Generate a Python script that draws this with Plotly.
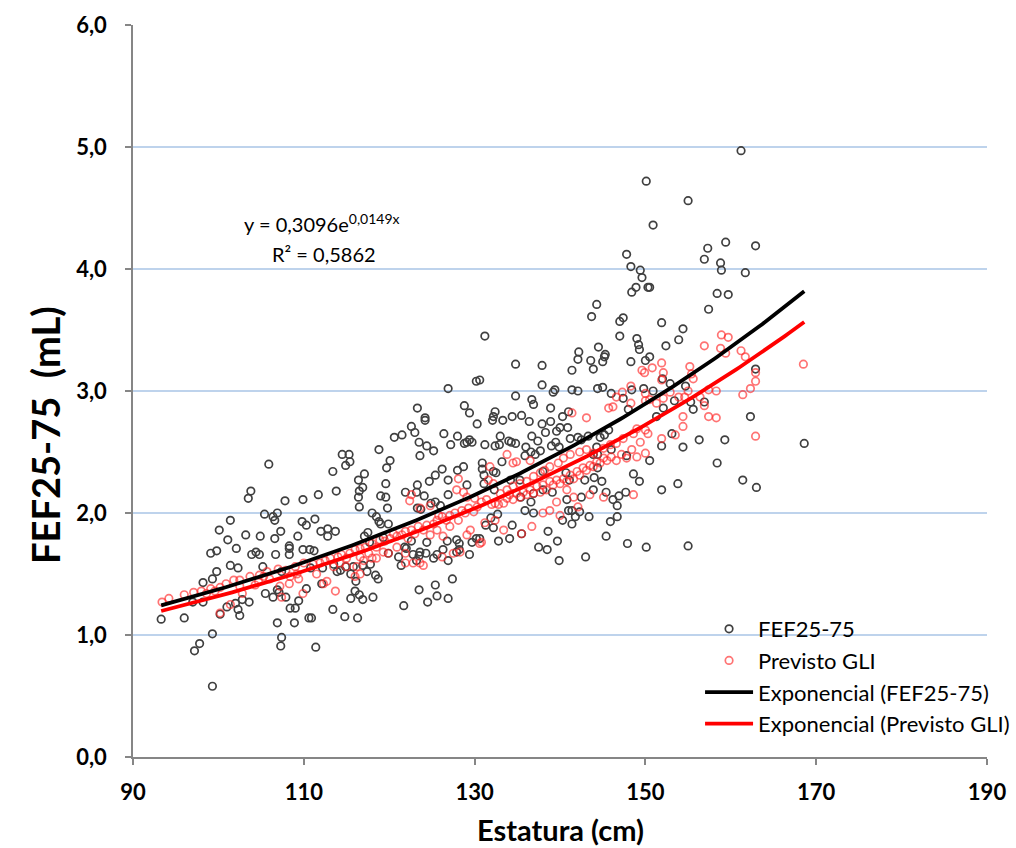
import numpy as np
import plotly.graph_objects as go

# ---------------- data ----------------
# FEF25-75 measured: (height cm, value)
fef_points = [
    # ~93-111 cm
    (105.9, 2.40), (103.8, 2.18), (103.5, 2.12), (107.8, 2.10), (109.9, 2.11), (101.4, 1.94), (100.1, 1.86),
    (101.1, 1.78), (103.2, 1.82), (105.4, 1.99), (106.4, 1.97), (106.9, 2.00), (106.6, 1.94), (107.3, 1.85),
    (106.6, 1.79), (104.9, 1.81), (109.8, 1.93), (110.3, 1.90), (109.3, 1.81), (102.1, 1.71), (99.1, 1.67),
    (99.8, 1.69), (103.9, 1.66), (104.4, 1.68), (104.8, 1.66), (106.7, 1.66), (108.3, 1.73), (108.3, 1.71),
    (108.3, 1.66), (109.9, 1.70), (101.4, 1.57), (102.3, 1.55), (105.2, 1.56), (99.3, 1.46), (99.8, 1.52),
    (98.2, 1.43), (107.4, 1.52), (110.3, 1.38), (105.5, 1.34), (106.4, 1.31), (106.9, 1.37), (107.1, 1.35),
    (107.9, 1.31), (109.4, 1.28), (98.2, 1.27), (97.0, 1.27), (102.0, 1.26), (102.8, 1.29), (103.6, 1.27),
    (102.3, 1.21), (102.5, 1.16), (101.0, 1.23), (100.2, 1.17), (108.4, 1.22), (109.0, 1.22), (110.6, 1.14),
    (93.3, 1.13), (96.0, 1.14), (106.9, 1.10), (108.9, 1.10), (99.3, 1.01), (107.4, 0.98), (107.3, 0.91),
    (97.8, 0.93), (97.2, 0.87), (99.3, 0.58),
    # ~110-131 cm
    (122.6, 2.71), (124.2, 2.76), (123.0, 2.66), (121.5, 2.64), (120.6, 2.62), (126.4, 2.65), (128.0, 2.63),
    (129.4, 2.60), (128.8, 2.57), (129.1, 2.58), (129.7, 2.58), (130.3, 2.73), (123.5, 2.58), (124.4, 2.55),
    (125.2, 2.51), (127.2, 2.56), (123.6, 2.47), (114.5, 2.48), (115.3, 2.48), (114.9, 2.39), (115.4, 2.42),
    (118.8, 2.52), (120.1, 2.43), (119.7, 2.37), (113.4, 2.34), (117.1, 2.32), (116.4, 2.27), (116.9, 2.21),
    (116.5, 2.18), (116.4, 2.13), (116.5, 2.05), (113.8, 2.18), (111.7, 2.15), (119.6, 2.24), (119.0, 2.14),
    (119.6, 2.13), (119.8, 2.04), (118.0, 2.00), (118.5, 1.97), (118.8, 1.93), (119.0, 1.91), (119.9, 1.91),
    (123.3, 2.23), (124.7, 2.26), (125.4, 2.31), (126.2, 2.36), (128.0, 2.35), (128.7, 2.38), (126.9, 2.27),
    (129.1, 2.23), (126.9, 2.15), (121.9, 2.17), (123.2, 2.17), (124.1, 2.14), (125.4, 2.09), (124.9, 2.08),
    (126.0, 2.06), (123.3, 2.04), (123.7, 2.03), (111.3, 1.95), (112.0, 1.85), (112.8, 1.81), (112.8, 1.87),
    (113.7, 1.85), (110.7, 1.70), (111.2, 1.69), (117.5, 1.84), (117.1, 1.81), (117.7, 1.76), (119.3, 1.80),
    (119.9, 1.67), (121.1, 1.64), (121.8, 1.72), (122.8, 1.66), (123.5, 1.65), (123.2, 1.61), (124.3, 1.67),
    (125.2, 1.63), (125.6, 1.66), (126.9, 1.61), (127.9, 1.68), (128.2, 1.75), (129.4, 1.66), (129.7, 1.76),
    (130.2, 1.79), (110.8, 1.55), (112.2, 1.55), (113.5, 1.58), (113.9, 1.52), (114.3, 1.53), (114.9, 1.56),
    (115.5, 1.50), (115.8, 1.56), (116.1, 1.44), (116.9, 1.57), (117.8, 1.58), (117.4, 1.52), (118.4, 1.49),
    (118.7, 1.46), (112.1, 1.42), (118.1, 1.31), (116.0, 1.36), (115.5, 1.30), (116.5, 1.33), (116.9, 1.29),
    (123.5, 1.37), (125.4, 1.41), (124.5, 1.27), (125.6, 1.32), (126.9, 1.30), (127.4, 1.46), (121.7, 1.24),
    (113.4, 1.21), (114.8, 1.15), (116.3, 1.14), (110.9, 1.14), (111.4, 0.90), (121.4, 1.57), (122.0, 1.71),
    (122.6, 1.77), (123.6, 1.68), (124.4, 1.76), (128.2, 1.70), (127.9, 1.78), (126.8, 1.77), (126.3, 1.70),
    (126.9, 3.02), (130.2, 3.08), (123.3, 2.86), (124.2, 2.78), (128.8, 2.88), (129.4, 2.82),
    # ~130-150 cm
    (132.1, 2.76), (133.3, 2.76), (136.4, 2.75), (137.9, 2.73), (138.9, 2.75), (140.0, 2.70), (140.9, 2.70),
    (139.6, 2.67), (138.3, 2.66), (136.7, 2.63), (137.4, 2.59), (133.0, 2.63), (131.2, 2.56), (132.4, 2.55),
    (132.9, 2.56), (134.0, 2.59), (134.3, 2.58), (134.8, 2.57), (136.0, 2.54), (136.6, 2.50), (137.7, 2.51),
    (135.9, 2.47), (137.1, 2.48), (139.5, 2.58), (139.0, 2.55), (139.9, 2.54), (141.2, 2.61), (142.1, 2.62),
    (142.5, 2.60), (143.3, 2.63), (144.7, 2.62), (145.2, 2.64), (145.7, 2.68), (146.0, 2.52), (144.3, 2.54),
    (143.9, 2.48), (144.4, 2.48), (147.8, 2.47), (148.6, 2.32), (149.3, 2.26), (133.2, 2.42), (130.9, 2.41),
    (130.9, 2.36), (132.2, 2.34), (132.5, 2.33), (131.1, 2.31), (131.1, 2.24), (132.3, 2.19), (134.2, 2.27),
    (135.3, 2.27), (135.4, 2.13), (136.6, 2.09), (136.9, 2.16), (138.0, 2.34), (138.0, 2.19), (139.1, 2.17),
    (140.7, 2.33), (141.1, 2.27), (140.8, 2.11), (142.5, 2.13), (142.9, 2.27), (144.0, 2.29), (144.9, 2.26),
    (144.4, 2.37), (143.9, 2.19), (145.4, 2.17), (146.2, 2.11), (146.7, 2.06), (146.9, 2.14), (147.7, 2.17),
    (146.7, 1.97), (145.9, 1.93), (135.9, 2.02), (136.9, 2.00), (132.7, 1.99), (131.9, 1.96), (131.3, 1.90),
    (132.2, 1.88), (134.4, 1.90), (140.3, 1.94), (141.0, 2.02), (141.4, 2.02), (141.4, 1.91), (142.3, 2.01),
    (141.8, 1.97), (143.4, 1.97), (138.6, 1.85), (135.5, 1.83), (134.1, 1.79), (132.8, 1.77), (130.6, 1.79),
    (137.5, 1.72), (138.5, 1.70), (139.7, 1.77), (139.9, 1.61), (143.0, 1.64), (145.4, 1.81), (147.9, 1.75),
    (150.1, 1.72),
    # upper cloud 130-150 cm
    (150.1, 4.72), (147.8, 4.12), (148.3, 4.02), (149.4, 3.99), (149.6, 3.93), (148.9, 3.85), (148.4, 3.81),
    (150.3, 3.85), (144.3, 3.71), (143.7, 3.61), (147.0, 3.57), (147.4, 3.60), (131.2, 3.45), (147.0, 3.45),
    (149.0, 3.43), (149.2, 3.38), (149.3, 3.34), (144.5, 3.36), (142.2, 3.32), (142.1, 3.26), (143.6, 3.25),
    (145.3, 3.30), (145.2, 3.28), (145.0, 3.24), (143.9, 3.18), (148.3, 3.24), (150.0, 3.25), (134.8, 3.22),
    (137.9, 3.21), (141.4, 3.17), (137.9, 3.05), (139.4, 3.01), (139.2, 2.99), (141.4, 3.01), (142.1, 3.00),
    (144.4, 3.02), (145.0, 3.03), (146.0, 2.98), (134.8, 2.96), (136.7, 2.93), (136.9, 2.89), (138.9, 2.86),
    (132.4, 2.83), (132.2, 2.79), (134.4, 2.79), (135.5, 2.80), (140.3, 2.79), (141.0, 2.83), (147.4, 2.94),
    (148.0, 2.85), (148.4, 3.01), (149.8, 3.02), (130.6, 3.09),
    # >150 cm
    (161.2, 4.97), (155.0, 4.56), (150.9, 4.36), (159.4, 4.22), (162.9, 4.19), (157.3, 4.17), (156.9, 4.08),
    (158.8, 4.05), (158.9, 3.99), (161.7, 3.97), (150.5, 3.85), (158.4, 3.80), (159.7, 3.79), (157.4, 3.67),
    (151.9, 3.56), (154.4, 3.51), (153.9, 3.42), (152.4, 3.37), (150.5, 3.28), (162.9, 3.18), (152.0, 3.10),
    (152.9, 3.06), (154.7, 3.04), (150.9, 3.00), (153.4, 2.92), (155.3, 2.91), (156.9, 2.91), (152.1, 2.86),
    (155.6, 2.85), (162.3, 2.79), (151.3, 2.79),
    (151.9, 2.55), (154.4, 2.54), (156.3, 2.60), (159.3, 2.60), (168.6, 2.57), (158.4, 2.41), (151.9, 2.19),
    (153.8, 2.24), (161.4, 2.27), (163.0, 2.21), (155.0, 1.73), (153.1, 2.65), (150.5, 2.43),
]

# Previsto GLI: (height cm, value)
gli_points = [
    (93.4, 1.27), (94.2, 1.30), (96.0, 1.33), (97.1, 1.35), (98.0, 1.36), (99.1, 1.38), (100.2, 1.39),
    (100.9, 1.42), (101.8, 1.45), (102.5, 1.45), (103.7, 1.48), (104.8, 1.49), (105.7, 1.52), (107.0, 1.54),
    (107.9, 1.53), (109.0, 1.56), (110.0, 1.59), (100.2, 1.18), (101.4, 1.25), (102.8, 1.34), (104.3, 1.41),
    (106.0, 1.46), (107.2, 1.40), (107.4, 1.31), (108.3, 1.42), (109.9, 1.34), (109.4, 1.46), (98.6, 1.34),
    (99.6, 1.36), (102.5, 1.40), (104.7, 1.44), (105.3, 1.48), (108.4, 1.48), (109.2, 1.50),
    (111.1, 1.58), (111.9, 1.59), (112.5, 1.61), (113.1, 1.63), (113.5, 1.56), (114.0, 1.64), (114.4, 1.66),
    (115.0, 1.63), (115.4, 1.67), (116.0, 1.70), (116.6, 1.64), (116.6, 1.71), (117.2, 1.72), (117.6, 1.67),
    (118.0, 1.75), (118.5, 1.72), (118.9, 1.78), (119.5, 1.77), (120.1, 1.79), (120.5, 1.83), (120.9, 1.81),
    (121.5, 1.82), (121.9, 1.85), (122.2, 1.79), (122.6, 1.86), (123.0, 1.83), (123.4, 1.89), (124.0, 1.86),
    (124.4, 1.90), (124.8, 1.82), (125.2, 1.91), (125.6, 1.94), (126.2, 1.97), (126.7, 1.94), (127.1, 1.98),
    (127.7, 2.00), (128.1, 1.94), (128.5, 2.02), (128.9, 2.00), (129.3, 2.04), (129.9, 2.01), (130.3, 2.05),
    (111.5, 1.50), (112.3, 1.42), (113.7, 1.36), (112.7, 1.44), (116.2, 1.56), (116.6, 1.50), (116.0, 1.48),
    (118.0, 1.63), (118.5, 1.63), (119.9, 1.67), (121.9, 1.67), (121.9, 1.59), (122.8, 1.59), (124.0, 1.57),
    (123.6, 1.59), (126.2, 1.64), (127.5, 1.67), (128.3, 1.68), (129.1, 1.82), (129.5, 1.86), (122.6, 2.15),
    (122.4, 2.10), (123.6, 2.04), (124.8, 2.06), (125.8, 1.98), (128.1, 2.28), (127.9, 2.19), (128.7, 2.17),
    (129.1, 2.13), (130.0, 2.12), (130.6, 1.75), (127.1, 1.89), (126.3, 1.81), (125.6, 1.86), (120.9, 1.72),
    (119.3, 1.68), (117.0, 1.61), (115.0, 1.56), (114.2, 1.59),
    (130.8, 2.09), (131.4, 2.11), (132.0, 2.07), (132.4, 2.08), (132.8, 2.07), (133.4, 2.08), (133.8, 2.12),
    (134.1, 2.15), (134.5, 2.11), (134.9, 2.16), (135.3, 2.13), (135.7, 2.17), (136.1, 2.15), (136.5, 2.19),
    (136.9, 2.16), (137.3, 2.22), (137.7, 2.17), (138.0, 2.23), (138.4, 2.19), (138.8, 2.26), (139.2, 2.23),
    (139.6, 2.27), (140.0, 2.24), (140.4, 2.28), (140.8, 2.26), (141.2, 2.31), (141.6, 2.28), (142.0, 2.34),
    (142.3, 2.31), (142.7, 2.37), (143.1, 2.35), (143.5, 2.39), (143.9, 2.38), (144.3, 2.42), (144.7, 2.41),
    (145.1, 2.45), (145.5, 2.43), (146.0, 2.46), (146.6, 2.43), (147.2, 2.48), (147.8, 2.45), (148.4, 2.52),
    (149.0, 2.46), (149.4, 2.58), (150.0, 2.49), (150.3, 2.65), (150.0, 2.68), (148.6, 2.65), (149.0, 2.69),
    (147.4, 2.61), (146.6, 2.57), (145.9, 2.56), (145.1, 2.53), (143.9, 2.49), (143.1, 2.52), (142.3, 2.50),
    (141.2, 2.48), (140.4, 2.45), (139.8, 2.41), (138.8, 2.38), (138.2, 2.35), (137.7, 2.33), (136.9, 2.30),
    (136.1, 2.26), (135.3, 2.24), (134.5, 2.22), (133.8, 2.19), (133.0, 2.16), (132.2, 2.24), (131.6, 2.27),
    (134.5, 2.41), (133.8, 2.48), (134.9, 2.42), (131.8, 2.38), (136.5, 2.43), (139.6, 2.09), (140.8, 2.19),
    (141.6, 2.13), (143.5, 2.15), (145.1, 2.13), (148.6, 2.15), (138.8, 2.02), (138.0, 2.00), (140.0, 1.98),
    (142.1, 2.05), (136.7, 1.89), (135.5, 1.83), (133.4, 1.86), (132.4, 1.94), (131.2, 1.92), (130.8, 1.76),
    (149.6, 3.17), (149.9, 3.15), (148.3, 3.04), (147.3, 2.99), (146.6, 2.95), (148.3, 2.90), (145.7, 2.86),
    (146.2, 2.87), (150.0, 2.92), (150.0, 2.98), (141.4, 2.82), (143.1, 2.78),
    (158.9, 3.46), (159.7, 3.44), (156.9, 3.37), (158.8, 3.35), (159.4, 3.31), (161.2, 3.33), (161.7, 3.28),
    (168.5, 3.22), (151.9, 3.23), (150.8, 3.19), (155.2, 3.20), (152.1, 3.15), (155.4, 3.14), (155.6, 3.10),
    (151.9, 3.09), (162.9, 3.15), (162.9, 3.08), (162.3, 3.02), (161.4, 2.97), (158.3, 3.00), (157.4, 3.01),
    (155.0, 3.00), (156.4, 2.95), (153.9, 2.95), (154.6, 2.95), (152.9, 2.99), (152.1, 2.94), (151.3, 2.90),
    (150.5, 2.93), (156.9, 2.88), (154.4, 2.79), (157.4, 2.79), (158.3, 2.78),
    (154.4, 2.71), (151.9, 2.61), (153.5, 2.64), (162.9, 2.63),
]

# Exponential trend-line coefficients  y = a * exp(b * x)
trend_fef = (0.3096, 0.0149)
trend_gli = (0.3093, 0.0145)

x_ticks = [90, 110, 130, 150, 170, 190]
y_ticks = [0, 1, 2, 3, 4, 5, 6]

series_names = ["FEF25-75", "Previsto GLI", "Exponencial (FEF25-75)", "Exponencial (Previsto GLI)"]
x_title = "Estatura (cm)"
y_title = "FEF25-75  (mL)"

# ---------------- figure ----------------
fef_x = [p[0] for p in fef_points]
fef_y = [p[1] for p in fef_points]
gli_x = [p[0] for p in gli_points]
gli_y = [p[1] for p in gli_points]

FONT = "Lato"

fig = go.Figure()
fig.add_trace(go.Scatter(
    x=fef_x, y=fef_y, mode="markers", name=series_names[0], legendgroup="a",
    marker=dict(symbol="circle-open", size=7.5, color="#404040", line=dict(width=1.7, color="#404040")),
))
fig.add_trace(go.Scatter(
    x=gli_x, y=gli_y, mode="markers", name=series_names[1], legendgroup="b",
    marker=dict(symbol="circle-open", size=7.5, color="rgba(255,40,40,0.65)",
                line=dict(width=1.7, color="rgba(255,40,40,0.65)")),
))

xmin = min(min(fef_x), min(gli_x))
xmax = max(max(fef_x), max(gli_x))
xt = np.linspace(xmin, xmax, 200)
fig.add_trace(go.Scatter(
    x=xt, y=trend_fef[0] * np.exp(trend_fef[1] * xt), mode="lines", name=series_names[2],
    legendgroup="c", line=dict(color="black", width=3.8),
))
fig.add_trace(go.Scatter(
    x=xt, y=trend_gli[0] * np.exp(trend_gli[1] * xt), mode="lines", name=series_names[3],
    legendgroup="d", line=dict(color="#FF0000", width=3.8),
))

fig.add_annotation(x=112.1, y=4.38, xref="x", yref="y", showarrow=False,
                   text="y = 0,3096e<sup>0,0149x</sup>", font=dict(family=FONT, size=20, color="black"))
fig.add_annotation(x=112.4, y=4.12, xref="x", yref="y", showarrow=False,
                   text="R² = 0,5862", font=dict(family=FONT, size=20, color="black"))

# axis titles placed as in the reference
fig.add_annotation(x=0.5, y=-0.0984, xref="paper", yref="paper", showarrow=False,
                   xanchor="center", yanchor="middle",
                   text="<b>" + x_title + "</b>", font=dict(family=FONT, size=29, color="black"))
fig.add_annotation(x=-0.103, y=0.44, xref="paper", yref="paper", showarrow=False,
                   xanchor="center", yanchor="middle", textangle=-90,
                   text="<b>" + y_title + "</b>", font=dict(family=FONT, size=38, color="black"))

# white area behind the legend (hides the gridline there)
fig.add_shape(type="rect", xref="paper", yref="paper", x0=0.652, x1=1.0, y0=0.02, y1=0.198,
              fillcolor="white", line=dict(width=0), layer="between")

fig.update_layout(
    width=1016, height=848,
    margin=dict(l=133, r=29, t=25, b=91, autoexpand=False),
    paper_bgcolor="white", plot_bgcolor="white",
    separators=",.",
    font=dict(family=FONT, color="black"),
    showlegend=True,
    legend=dict(
        x=0.664, y=0.2035, xanchor="left", yanchor="top",
        bgcolor="rgba(255,255,255,0)", font=dict(family=FONT, size=22, color="black"),
        tracegroupgap=0, itemwidth=48,
    ),
    xaxis=dict(
        range=[90, 190], tickvals=x_ticks, showgrid=False, zeroline=False, automargin=False,
        showline=True, linecolor="#868686", linewidth=1.5,
        ticks="outside", ticklen=6, tickcolor="#868686", tickwidth=1.5,
        ticklabelstandoff=9,
        tickfont=dict(family=FONT, size=22, color="black", weight="bold"),
    ),
    yaxis=dict(
        range=[0, 6], tickvals=y_ticks, tickformat=".1f", showgrid=True, automargin=False,
        gridcolor="#BED3EC", gridwidth=1.5, zeroline=False,
        showline=True, linecolor="#868686", linewidth=1.5,
        ticks="outside", ticklen=6, tickcolor="#868686", tickwidth=1.5,
        ticklabelstandoff=14,
        tickfont=dict(family=FONT, size=22, color="black", weight="bold"),
    ),
)

fig.write_html("out.html", config={"displayModeBar": False},
               post_script="document.body.style.margin='0px';document.body.style.overflow='hidden';")
